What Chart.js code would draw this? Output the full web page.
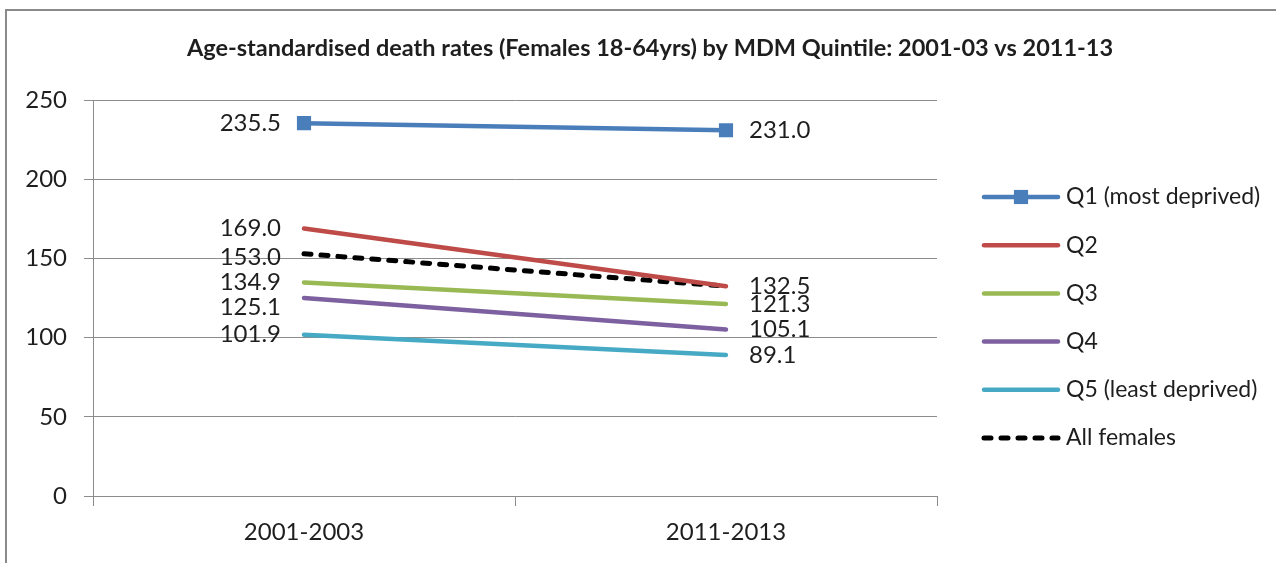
<!DOCTYPE html>
<html>
<head>
<meta charset="utf-8">
<title>Age-standardised death rates by MDM Quintile</title>
<script src="https://cdn.jsdelivr.net/npm/chart.js"></script>
<style>
    html, body { margin: 0; padding: 0; background: #fff; }
    #wrap { position: relative; width: 1276px; height: 563px; }
</style>
</head>
<body>
<div id="wrap"><canvas id="deathChart"></canvas></div>
<script>
// Periods on the x axis
const periods = ['2001-2003', '2011-2013'];

// Death rates per 100,000
const q1Values = [235.5, 231.0];
const q2Values = [169.0, 132.5];
const q3Values = [134.9, 121.3];
const q4Values = [125.1, 105.1];
const q5Values = [101.9, 89.1];
const allFemalesValues = [153.0, 132.5];

const seriesNames = ['Q1 (most deprived)', 'Q2', 'Q3', 'Q4', 'Q5 (least deprived)', 'All females'];

// y axis tick labels
const yTicks = [0, 50, 100, 150, 200, 250];

const gridGrey = '#8c8c8c';
const textColour = '#1e1e1e';

Chart.defaults.font.family = 'Lato';
Chart.defaults.color = textColour;

function lineSeries(label, data, colour, extra) {
    return Object.assign({
        label: label,
        data: data,
        borderColor: colour,
        backgroundColor: colour,
        borderWidth: 4.5,
        borderCapStyle: 'round',
        pointRadius: 0,
        pointHoverRadius: 0,
        tension: 0,
        fill: false
    }, extra || {});
}

// Draws the value next to each point (left of the first, right of the second)
const valueLabels = {
    id: 'valueLabels',
    afterDatasetsDraw(chart, args, opts) {
        const ctx = chart.ctx;
        ctx.save();
        ctx.font = opts.fontSize + 'px Lato';
        ctx.fillStyle = textColour;
        ctx.textBaseline = 'middle';
        chart.data.datasets.forEach((ds, i) => {
            const meta = chart.getDatasetMeta(i);
            meta.data.forEach((pt, j) => {
                const key = i + '-' + j;
                if (opts.skip.includes(key)) return;
                const nudge = opts.nudge[key] || 0;
                const text = ds.data[j].toFixed(1);
                if (j === 0) {
                    ctx.textAlign = 'right';
                    ctx.fillText(text, pt.x - opts.gap, pt.y + nudge);
                } else {
                    ctx.textAlign = 'left';
                    ctx.fillText(text, pt.x + opts.gap, pt.y + nudge);
                }
            });
        });
        ctx.restore();
    }
};

// Legend on the right, drawn with each series' own line style
const sideLegend = {
    id: 'sideLegend',
    afterDraw(chart, args, opts) {
        const ctx = chart.ctx;
        ctx.save();
        chart.data.datasets.forEach((ds, i) => {
            const y = opts.top + i * opts.spacing;
            ctx.strokeStyle = ds.borderColor;
            ctx.lineWidth = ds.borderWidth;
            ctx.lineCap = ds.borderCapStyle || 'butt';
            ctx.setLineDash(ds.borderDash || []);
            ctx.beginPath();
            ctx.moveTo(opts.x, y);
            ctx.lineTo(opts.x + opts.lineLength, y);
            ctx.stroke();
            if (ds.pointStyle === 'rect') {
                const side = ds.pointRadius * Math.SQRT2;
                ctx.fillStyle = ds.pointBackgroundColor;
                ctx.fillRect(opts.x + opts.lineLength / 2 - side / 2, y - side / 2, side, side);
            }
            ctx.setLineDash([]);
            ctx.fillStyle = textColour;
            ctx.font = opts.fontSize + 'px Lato';
            ctx.textAlign = 'left';
            ctx.textBaseline = 'middle';
            ctx.fillText(ds.label, opts.x + opts.lineLength + opts.textGap, y);
        });
        ctx.restore();
    }
};

// White background and the grey outline of the chart box
const chartFrame = {
    id: 'chartFrame',
    beforeDraw(chart) {
        const ctx = chart.ctx;
        ctx.save();
        ctx.fillStyle = '#fff';
        ctx.fillRect(0, 0, chart.width, chart.height);
        ctx.strokeStyle = '#8a8a8a';
        ctx.lineWidth = 2;
        ctx.strokeRect(6, 10, chart.width + 20, chart.height + 20);
        ctx.restore();
    }
};

const ctx = document.getElementById('deathChart').getContext('2d');
const deathChart = new Chart(ctx, {
    type: 'line',
    data: {
        labels: periods,
        datasets: [
            lineSeries(seriesNames[0], q1Values, '#4a7ebb', {
                pointStyle: 'rect',
                pointRadius: 10,
                pointHoverRadius: 10,
                pointBorderWidth: 0,
                pointBackgroundColor: '#4a7ebb'
            }),
            lineSeries(seriesNames[1], q2Values, '#be4b48'),
            lineSeries(seriesNames[2], q3Values, '#98b954'),
            lineSeries(seriesNames[3], q4Values, '#7d60a0'),
            lineSeries(seriesNames[4], q5Values, '#46aac5'),
            lineSeries(seriesNames[5], allFemalesValues, '#000000', {
                borderWidth: 5,
                borderDash: [7, 10]
            })
        ]
    },
    options: {
        responsive: true,
        maintainAspectRatio: false,
        animation: false,
        devicePixelRatio: 1,
        layout: {
            padding: { top: 34, left: 24, right: 0, bottom: 0 }
        },
        scales: {
            x: {
                offset: true,
                ticks: {
                    padding: 12,
                    font: { size: 24 }
                },
                grid: {
                    offset: true,
                    drawOnChartArea: false,
                    drawTicks: true,
                    tickLength: 10,
                    color: gridGrey
                },
                border: { color: gridGrey },
                afterFit(scale) { scale.height = 67; }
            },
            y: {
                min: yTicks[0],
                max: yTicks[yTicks.length - 1],
                ticks: {
                    stepSize: yTicks[1] - yTicks[0],
                    padding: 17,
                    font: { size: 24 }
                },
                grid: {
                    color: gridGrey,
                    tickLength: 9
                },
                border: { color: gridGrey },
                afterFit(scale) { scale.width = 69; }
            },
            // empty axis that keeps room for the legend on the right
            legendSpace: {
                type: 'linear',
                position: 'right',
                display: true,
                ticks: { display: false },
                grid: { display: false },
                border: { display: false },
                afterFit(scale) { scale.width = 339; }
            }
        },
        plugins: {
            legend: { display: false },
            tooltip: { enabled: false },
            title: {
                display: true,
                text: 'Age-standardised death rates (Females 18-64yrs) by MDM Quintile: 2001-03 vs 2011-13',
                color: textColour,
                font: { size: 23.5, weight: 'bold' },
                padding: { top: 0, bottom: 38 }
            },
            valueLabels: {
                fontSize: 24,
                gap: 23,
                skip: ['1-1'],
                nudge: { '3-0': 9, '5-0': 3 }
            },
            sideLegend: {
                x: 984,
                top: 197,
                spacing: 48.2,
                lineLength: 74,
                textGap: 8,
                fontSize: 23
            }
        }
    },
    plugins: [chartFrame, valueLabels, sideLegend]
});
</script>
</body>
</html>
